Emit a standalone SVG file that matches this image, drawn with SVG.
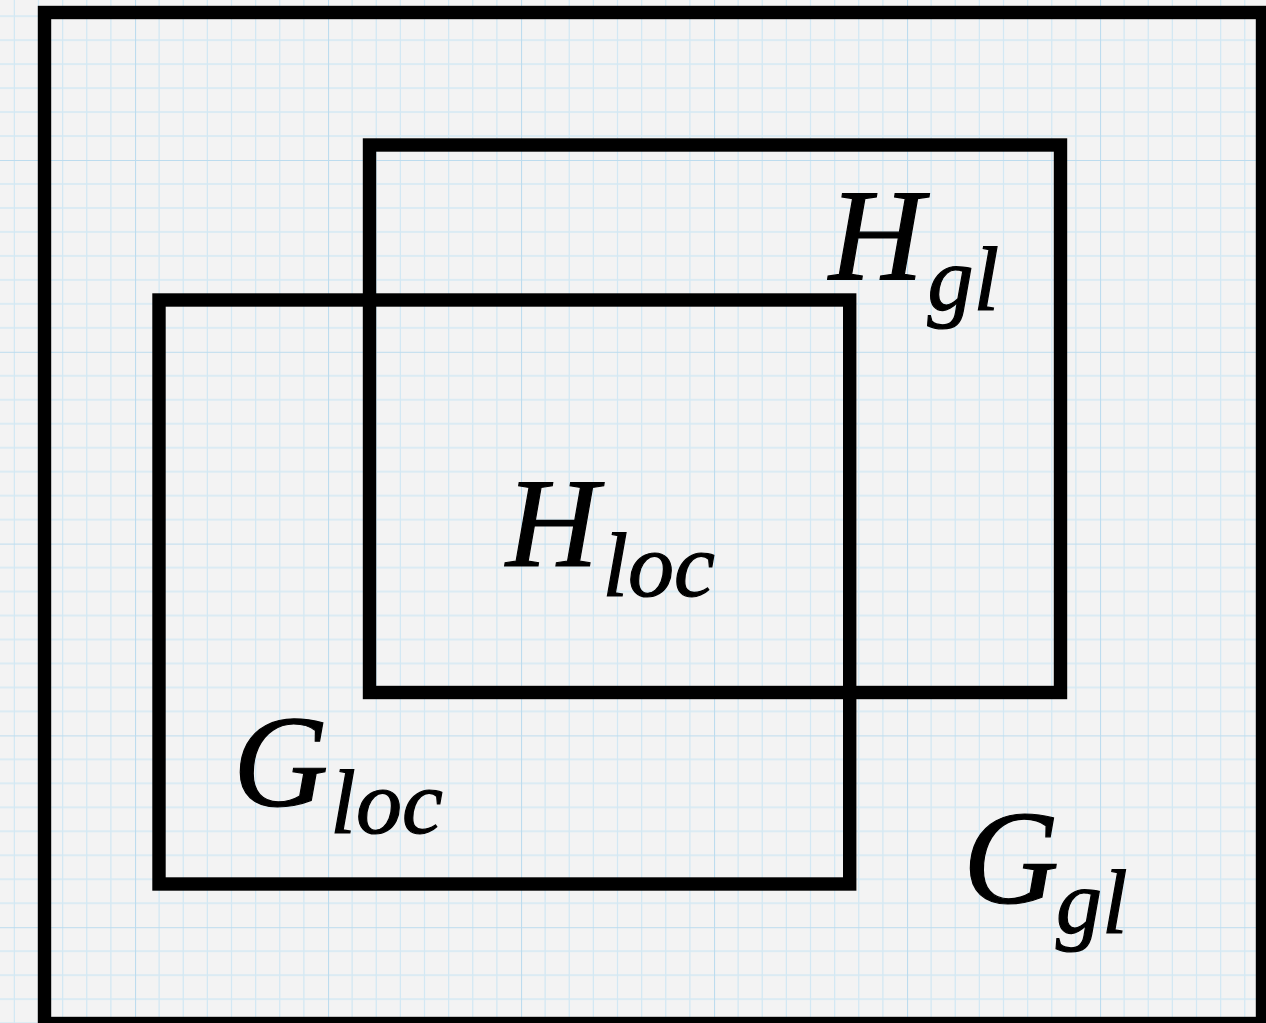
<svg xmlns="http://www.w3.org/2000/svg" width="1266" height="1023" viewBox="0 0 1266 1023">
<defs>
<pattern id="grid" patternUnits="userSpaceOnUse" x="135" y="160" width="193" height="191.8">
<g stroke="#d3e8f3" stroke-width="1.3">
<line x1="24.125" y1="0" x2="24.125" y2="191.8"/><line x1="48.25" y1="0" x2="48.25" y2="191.8"/><line x1="72.375" y1="0" x2="72.375" y2="191.8"/><line x1="96.5" y1="0" x2="96.5" y2="191.8"/><line x1="120.625" y1="0" x2="120.625" y2="191.8"/><line x1="144.75" y1="0" x2="144.75" y2="191.8"/><line x1="168.875" y1="0" x2="168.875" y2="191.8"/>
<line y1="23.975" x1="0" y2="23.975" x2="193"/><line y1="47.95" x1="0" y2="47.95" x2="193"/><line y1="71.925" x1="0" y2="71.925" x2="193"/><line y1="95.9" x1="0" y2="95.9" x2="193"/><line y1="119.875" x1="0" y2="119.875" x2="193"/><line y1="143.85" x1="0" y2="143.85" x2="193"/><line y1="167.825" x1="0" y2="167.825" x2="193"/>
</g>
<g stroke="#bddcee" stroke-width="2.2">
<line x1="0" y1="0" x2="0" y2="191.8"/><line x1="0" y1="0" x2="193" y2="0"/>
</g>
</pattern>
<style>
.box{fill:none;stroke:#000;stroke-width:13.4;stroke-linejoin:miter}
.lbl{font-family:"Liberation Serif","Times New Roman",serif;font-style:italic;fill:#000;stroke:#000;stroke-width:1.2}
</style>
</defs>
<rect width="1266" height="1023" fill="#f3f3f3"/>
<rect width="1266" height="1023" fill="url(#grid)"/>
<g id="G_gl">
<rect class="box" x="44.5" y="12.5" width="1218" height="1011"/>
<text class="lbl" x="963" y="903" font-size="133">G<tspan font-size="92" dy="30" dx="-3">gl</tspan></text>
</g>
<g id="H_gl">
<rect class="box" x="369.5" y="145" width="691" height="547.5"/>
<text class="lbl" x="829" y="279" font-size="131">H<tspan font-size="92" dy="31" dx="4">gl</tspan></text>
</g>
<g id="G_loc">
<rect class="box" x="159" y="300" width="690.7" height="584"/>
<text class="lbl" x="233" y="806" font-size="132">G<tspan font-size="92" dy="27" dx="2">loc</tspan></text>
</g>
<g id="H_loc">
<text class="lbl" x="506" y="566" font-size="128">H<tspan font-size="92" dy="30" dx="4">loc</tspan></text>
</g>
<g id="connectors"/>
</svg>
